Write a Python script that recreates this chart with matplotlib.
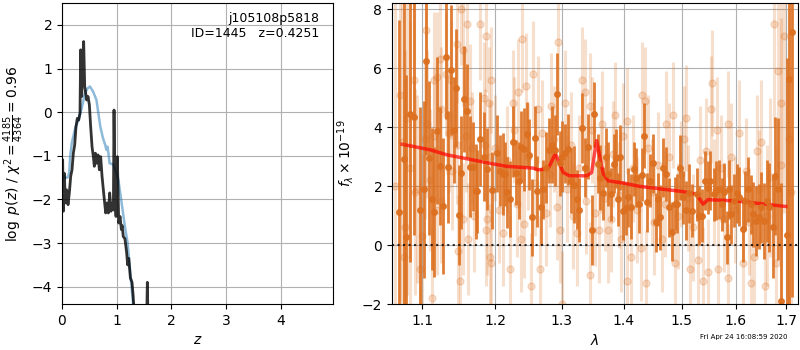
import matplotlib
matplotlib.use('Agg')
import matplotlib.pyplot as plt
from matplotlib.ticker import NullLocator

# p(z) panel
z_chi = [0.0, 0.012, 0.024, 0.043, 0.061, 0.085, 0.110, 0.134, 0.159, 0.183, 0.207,
         0.232, 0.256, 0.280, 0.305, 0.329, 0.341, 0.360, 0.378, 0.396, 0.415, 0.433,
         0.451, 0.476, 0.500, 0.524, 0.549, 0.573, 0.591, 0.610, 0.634, 0.659, 0.683,
         0.707, 0.732, 0.756, 0.780, 0.799, 0.823, 0.848, 0.872, 0.896, 0.921, 0.939,
         0.951, 0.970, 0.988, 1.012, 1.037, 1.061, 1.085, 1.10, 1.12, 1.15, 1.18, 1.20,
         1.22, 1.25, 1.28, 1.30, 1.32, 1.40, 1.50, 1.55, 1.56, 1.57, 1.65]
logp = [-1.2, -1.09, -2.27, -1.40, -2.08, -1.78, -2.12, -1.85, -1.47, -1.32, -0.94,
        -0.75, -0.33, -0.14, -0.18, -0.02, 1.43, 0.36, 1.12, 1.62, 0.59, 0.44,
        0.28, 0.36, 0.17, -0.33, -0.79, -1.02, -1.24, -0.94, -1.17, -0.98, -1.32,
        -1.02, -1.47, -1.78, -2.08, -2.31, -2.08, -2.31, -1.85, -2.27, -2.08, -2.24,
        0.05, -2.08, -2.39, -1.02, -2.54, -2.39, -2.69, -2.6, -2.85, -2.9, -3.2, -3.5,
        -3.35, -3.8, -3.9, -4.2, -4.6, -5.0, -4.8, -4.6, -3.9, -4.6, -5.0]

z_prior = [0.0, 0.03, 0.06, 0.10, 0.13, 0.15, 0.18, 0.24, 0.30, 0.36, 0.42, 0.47,
           0.51, 0.57, 0.63, 0.70, 0.75, 0.79, 0.81, 0.83, 0.85, 0.87, 0.94, 1.03,
           1.09, 1.15, 1.20, 1.25, 1.30, 1.35]
logp_prior = [-1.6, -1.45, -1.5, -1.5, -1.4, -1.0, -0.7, -0.37, -0.18, 0.09, 0.44, 0.55,
              0.59, 0.47, 0.28, -0.33, -0.6, -0.75, -0.86, -0.79, -0.95, -1.17, -1.2, -1.55,
              -2.08, -2.62, -3.0, -3.7, -4.4, -5.0]

# spectrum panel
wave_bin = [1.0694, 1.0759, 1.0793, 1.0837, 1.0897, 1.0975, 1.1019, 1.1045, 1.1088, 1.1128,
            1.1159, 1.1195, 1.1231, 1.1276, 1.1312, 1.1339, 1.1380, 1.1420, 1.1456, 1.1492,
            1.1528, 1.1569, 1.1602, 1.1649, 1.1686, 1.1733, 1.1752, 1.1790, 1.1837, 1.1884,
            1.1954,
            1.2034, 1.2073, 1.2112, 1.2146, 1.2180, 1.2219, 1.2268, 1.2306, 1.2345, 1.2384,
            1.2423, 1.2462, 1.2501, 1.2541, 1.2582, 1.2623, 1.2673, 1.2714, 1.2754, 1.2795,
            1.2846, 1.2886, 1.2927, 1.2967, 1.3008, 1.3050, 1.3102, 1.3145, 1.3187, 1.3229,
            1.3271, 1.3314, 1.3366, 1.3409, 1.3472, 1.3504,
            1.3568, 1.3612, 1.3656, 1.3700, 1.3744, 1.3788, 1.3832, 1.3876, 1.3898, 1.3942,
            1.3986, 1.4030, 1.4074, 1.4119, 1.4165, 1.4199, 1.4256, 1.4302, 1.4336, 1.4393,
            1.4439, 1.4496, 1.4541, 1.4587, 1.4621, 1.4667, 1.4727, 1.4774, 1.4834, 1.4881,
            1.4917, 1.4976, 1.5024, 1.5071, 1.5131, 1.5179,
            1.5274, 1.5324, 1.5374, 1.5423, 1.5473, 1.5522, 1.5584, 1.5634, 1.5684, 1.5734,
            1.5783, 1.5833, 1.5870, 1.5921, 1.5972, 1.6024, 1.6075, 1.6140, 1.6191, 1.6243,
            1.6294, 1.6346, 1.6397, 1.6449, 1.6500, 1.6553, 1.6606, 1.6660, 1.6727, 1.6781,
            1.6834, 1.6888, 1.7009, 1.7062, 1.7116]
flux_bin = [1.13, 2.92, 0.28, 4.44, 4.35, 1.19, 1.90, 6.25, 2.95, 1.56,
            1.13, 3.88, 2.69, 1.33, 6.38, 2.66, 5.93, 3.91, 5.32, 1.03,
            2.46, 4.95, 4.55, 2.66, 2.66, 1.82, 1.82, 3.59, 3.00, 2.58,
            1.86,
            3.11, 2.52, 2.41, 2.41, 1.79, 1.56, 3.51, 2.46, 2.18, 3.33,
            3.25, 3.76, 3.06, 0.94, 3.63, 1.82, 1.30, 1.90, 2.63, 3.22,
            3.40, 3.22, 5.12, 2.77, 3.00, 3.11, 3.25, 2.18, 2.05, 1.56,
            1.19, 3.97, 2.63, 3.33, 0.51, 4.44,
            2.75, 2.29, 1.75, 2.97, 2.41, 1.73, 2.75, 2.95, 1.56, 2.97,
            1.16, 1.25, 1.62, 1.30, 2.58, 2.29, 1.41, 2.38, 3.71, 1.45,
            2.18, 2.77, 0.77, 1.56, 0.94, 2.63, 2.41, 1.28, 0.46, 1.41,
            1.41, 2.63, 1.62, 1.19, 1.75, 1.16,
            1.73, 0.99, 0.99, 2.18, 1.95, 2.18, 1.73, 1.84, 1.90, 1.39,
            1.79, 0.26, 1.90, 1.05, 1.50, 1.75, 1.64, 0.54, 1.50, 1.90,
            1.39, 1.05, 0.82, 0.96, 1.28, 0.82, 1.50, 1.28, 0.60, 2.35,
            1.90, -1.89, 0.35, 5.63, 7.23]
err_bin = [6.5, 6.0, 5.5, 5.0, 4.0, 3.5, 3.0, 3.2, 2.6, 2.4,
           2.2, 2.5, 2.0, 2.3, 2.1, 1.9, 2.2, 1.8, 2.0, 1.7,
           1.9, 1.8, 1.6, 1.7, 1.5, 1.6, 1.4, 1.6, 1.5, 1.4,
           1.3,
           1.3, 1.2, 1.4, 1.1, 1.2, 1.3, 1.2, 1.1, 1.3, 1.2,
           1.4, 1.1, 1.2, 1.3, 1.1, 1.2, 1.3, 1.0, 1.2, 1.1,
           1.3, 1.2, 1.4, 1.1, 1.2, 1.0, 1.2, 1.1, 1.3, 1.0,
           1.1, 1.2, 1.0, 1.1, 1.2, 1.1,
           1.0, 1.1, 0.9, 1.0, 1.1, 0.9, 1.0, 1.0, 0.9, 1.1,
           1.0, 0.9, 1.0, 1.1, 0.9, 1.0, 1.0, 0.9, 1.1, 1.0,
           0.9, 1.0, 1.0, 0.9, 1.1, 1.0, 0.9, 1.0, 1.0, 0.9,
           1.0, 1.1, 0.9, 1.0, 1.0, 0.9,
           0.9, 1.0, 0.9, 1.0, 0.9, 1.0, 0.9, 1.0, 1.0, 0.9,
           1.0, 0.9, 1.0, 1.0, 0.9, 1.0, 1.0, 1.1, 1.0, 1.1,
           1.0, 1.1, 1.2, 1.1, 1.2, 1.3, 1.4, 1.5, 1.7, 2.0,
           2.4, 4.0, 6.0, 9.0, 9.0]

wave_raw = [1.0650, 1.0715, 1.0737, 1.0767, 1.0780, 1.0800, 1.0845, 1.0890, 1.0910, 1.0930,
            1.0975, 1.1000, 1.1040, 1.1053, 1.1062, 1.1105, 1.1128, 1.1150, 1.1160, 1.1195,
            1.1200, 1.1240, 1.1245, 1.1250, 1.1321, 1.1330, 1.1352, 1.1384, 1.1400, 1.1465,
            1.1474, 1.1487, 1.1510, 1.1519, 1.1546, 1.1555, 1.1593, 1.1611, 1.1615, 1.1649,
            1.1672, 1.1700, 1.1790, 1.1837, 1.1860, 1.1865, 1.1874, 1.1884, 1.1912, 1.1925,
            1.1931, 1.1940, 1.1945, 1.2000, 1.2060, 1.2120, 1.2180, 1.2219, 1.2258, 1.2280,
            1.2320, 1.2341, 1.2374, 1.2390, 1.2420, 1.2452, 1.2480, 1.2526, 1.2560, 1.2590,
            1.2634, 1.2660, 1.2700, 1.2750, 1.2810, 1.2836, 1.2880, 1.2920, 1.2932, 1.2967,
            1.3003, 1.3044, 1.3080, 1.3140, 1.3180, 1.3229, 1.3270, 1.3324, 1.3360, 1.3380,
            1.3440, 1.3445, 1.3480, 1.3520, 1.3590, 1.3620, 1.3646, 1.3680, 1.3739, 1.3780,
            1.3820, 1.3850, 1.3920, 1.3959, 1.3980, 1.4052, 1.4058, 1.4125, 1.4160, 1.4220,
            1.4296, 1.4313, 1.4353, 1.4382, 1.4410, 1.4470, 1.4520, 1.4580, 1.4656, 1.4700,
            1.4727, 1.4780, 1.4846, 1.4881, 1.4930, 1.4990, 1.5050, 1.5083, 1.5120, 1.5143,
            1.5200, 1.5293, 1.5330, 1.5386, 1.5450, 1.5479, 1.5540, 1.5559, 1.5600, 1.5653,
            1.5666, 1.5720, 1.5780, 1.5851, 1.5855, 1.5920, 1.5980, 1.6075, 1.6140, 1.6200,
            1.6250, 1.6300, 1.6365, 1.6410, 1.6450, 1.6500, 1.6572, 1.6620, 1.6680, 1.6754,
            1.6794, 1.6828, 1.6894, 1.6900, 1.6961, 1.7050, 1.7100]
flux_raw = [2.0, 5.1, 3.5, -0.4, 0.6, 4.3, 2.6, 5.6, 1.8, 1.9,
            -0.8, 0.3, 3.6, 7.3, 4.1, 2.2, -1.8, 3.7, 5.6, 5.7,
            1.2, 6.3, 4.6, 1.5, 5.8, 4.4, 3.8, 5.6, 2.5, 3.4,
            6.8, -0.2, -1.2, 8.0, 0.9, 6.6, 3.7, 7.5, 0.2, 4.9,
            3.3, 1.0, 7.5, 5.0, 3.4, 7.1, 0.5, 0.9, 4.8, 3.0,
            -0.4, -0.6, 5.6, 3.3, 1.2, 0.4, 2.9, -0.8, 4.8, 3.9,
            1.4, 5.2, 0.2, 7.0, 0.7, 5.4, 3.0, -1.4, 5.8, 2.1,
            4.6, -0.8, 3.8, 1.1, 2.4, 4.7, 3.6, 1.3, 6.9, 0.5,
            -2.0, 4.8, 1.9, 3.4, 1.0, 0.4, 2.6, 5.6, 5.2, 1.5,
            4.7, -1.0, 3.9, 1.1, 0.5, 2.9, 4.1, 1.6, 0.5, 0.9,
            3.1, 4.4, 1.7, 0.2, 3.7, 4.2, -1.2, -0.4, 2.6, 1.2,
            -0.1, 5.1, 4.9, -1.3, 3.3, 1.8, 0.8, 2.7, 0.2, 1.4,
            4.1, 3.0, 4.4, -0.6, 1.0, 2.4, 3.6, 4.3, 1.6, -0.8,
            0.6, -0.5, 2.9, -1.2, 3.2, -0.9, 4.6, 5.5, 1.8, 3.9,
            -0.8, 2.6, 0.9, 4.1, -1.1, 3.0, 1.2, 3.8, -0.6, 2.5,
            0.8, -1.3, -0.4, 3.2, 1.9, 3.5, -1.4, 1.0, 2.3, 7.5,
            -0.6, 5.9, 4.8, 2.7, 7.1, 3.6, 1.8]
err_raw = [8.0, 7.0, 7.0, 6.0, 6.0, 6.0, 5.0, 4.0, 3.5, 3.2,
           3.0, 2.8, 2.7, 2.6, 2.5, 2.4, 2.4, 2.3, 2.3, 2.2,
           2.2, 2.2, 2.1, 2.1, 2.1, 2.0, 2.0, 2.0, 2.0, 2.0,
           2.0, 1.9, 1.9, 1.9, 1.9, 1.9, 1.9, 1.9, 1.9, 1.9,
           1.9, 1.9, 1.9, 1.9, 1.9, 1.9, 1.9, 1.9, 1.9, 1.9,
           1.8, 1.8, 1.8, 1.8, 1.8, 1.8, 1.8, 1.8, 1.8, 1.8,
           1.8, 1.8, 1.8, 1.8, 1.8, 1.8, 1.8, 1.8, 1.8, 1.8,
           1.8, 1.8, 1.8, 1.8, 1.8, 1.8, 1.8, 1.8, 1.8, 1.8,
           1.8, 1.8, 1.8, 1.8, 1.8, 1.8, 1.8, 1.8, 1.8, 1.8,
           1.8, 1.8, 1.8, 1.8, 1.8, 1.8, 1.8, 1.8, 1.8, 1.8,
           1.8, 1.8, 1.8, 1.8, 1.8, 1.8, 1.8, 1.8, 1.8, 1.8,
           1.8, 1.8, 1.8, 1.8, 1.8, 1.8, 1.8, 1.8, 1.8, 1.8,
           1.8, 1.8, 1.8, 1.8, 1.8, 1.8, 1.8, 1.8, 1.8, 1.8,
           1.8, 1.8, 1.8, 1.8, 1.8, 1.8, 1.8, 1.8, 1.8, 1.8,
           1.8, 1.8, 1.8, 1.8, 1.8, 1.8, 1.8, 1.8, 1.8, 1.8,
           1.8, 1.8, 1.9, 1.9, 2.0, 2.1, 2.2, 2.4, 2.7, 3.5,
           4.0, 4.5, 5.0, 5.0, 6.0, 7.0, 8.0]

wave_model = [1.0737, 1.1105, 1.1329, 1.1980, 1.2170, 1.2560, 1.2640, 1.2790, 1.2900, 1.3020,
              1.3120, 1.3390, 1.3470, 1.3550, 1.3660, 1.3740, 1.4000, 1.4270, 1.5000, 1.5270,
              1.5340, 1.5390, 1.5480, 1.6000, 1.6990]
flux_model = [3.42, 3.23, 3.06, 2.75, 2.67, 2.61, 2.55, 2.60, 3.10, 2.46,
              2.35, 2.35, 2.46, 3.54, 2.40, 2.18, 2.10, 1.99, 1.82, 1.73,
              1.53, 1.39, 1.54, 1.50, 1.31]

orange = '#dc7020'

fig = plt.figure(figsize=(8, 3.5), dpi=100)
ax1 = fig.add_axes([0.0775, 0.131, 0.3385, 0.86])
ax2 = fig.add_axes([0.49, 0.131, 0.5075, 0.86])

# Panel 1: p(z)
ax1.plot(z_prior, logp_prior, color='#1f77b4', alpha=0.5, lw=1.8)
ax1.plot(z_chi, logp, color='k', alpha=0.8, lw=2)
ax1.set_xlim(0, 4.95)
ax1.set_ylim(-4.4, 2.5)
ax1.set_xticks([0, 1, 2, 3, 4])
ax1.set_yticks([-4, -3, -2, -1, 0, 1, 2])
ax1.grid()
ax1.set_xlabel(r'$z$')
ax1.set_ylabel(r'$\log\ p(z)$ / $\chi^2=\frac{4185}{4364}=0.96$')
ax1.text(0.95, 0.97, 'j105108p5818\nID=1445   z=0.4251', transform=ax1.transAxes,
         ha='right', va='top', fontsize=9)

# Panel 2: spectrum
ax2.errorbar(wave_raw, flux_raw, yerr=err_raw, color=orange, alpha=0.22,
             marker='o', ms=5, linestyle='None', elinewidth=2.2)
ax2.errorbar(wave_bin, flux_bin, yerr=err_bin, color=orange, alpha=0.9,
             marker='o', ms=4, linestyle='None', elinewidth=2)
ax2.plot(wave_model, flux_model, color='red', alpha=0.7, lw=2.5)
ax2.axhline(0, color='k', linestyle=':', lw=1.5, alpha=0.8)
ax2.set_xscale('log')
ax2.set_xlim(1.061, 1.724)
ax2.set_ylim(-2, 8.2)
ax2.set_xticks([1.1, 1.2, 1.3, 1.4, 1.5, 1.6, 1.7])
ax2.set_xticklabels(['1.1', '1.2', '1.3', '1.4', '1.5', '1.6', '1.7'])
ax2.xaxis.set_minor_locator(NullLocator())
ax2.set_yticks([-2, 0, 2, 4, 6, 8])
ax2.grid()
ax2.set_xlabel(r'$\lambda$')
ax2.set_ylabel(r'$f_\lambda\times10^{-19}$')

fig.text(0.984, 0.028, 'Fri Apr 24 16:08:59 2020', ha='right', va='bottom', fontsize=5)

fig.savefig('out.png', dpi=100)
